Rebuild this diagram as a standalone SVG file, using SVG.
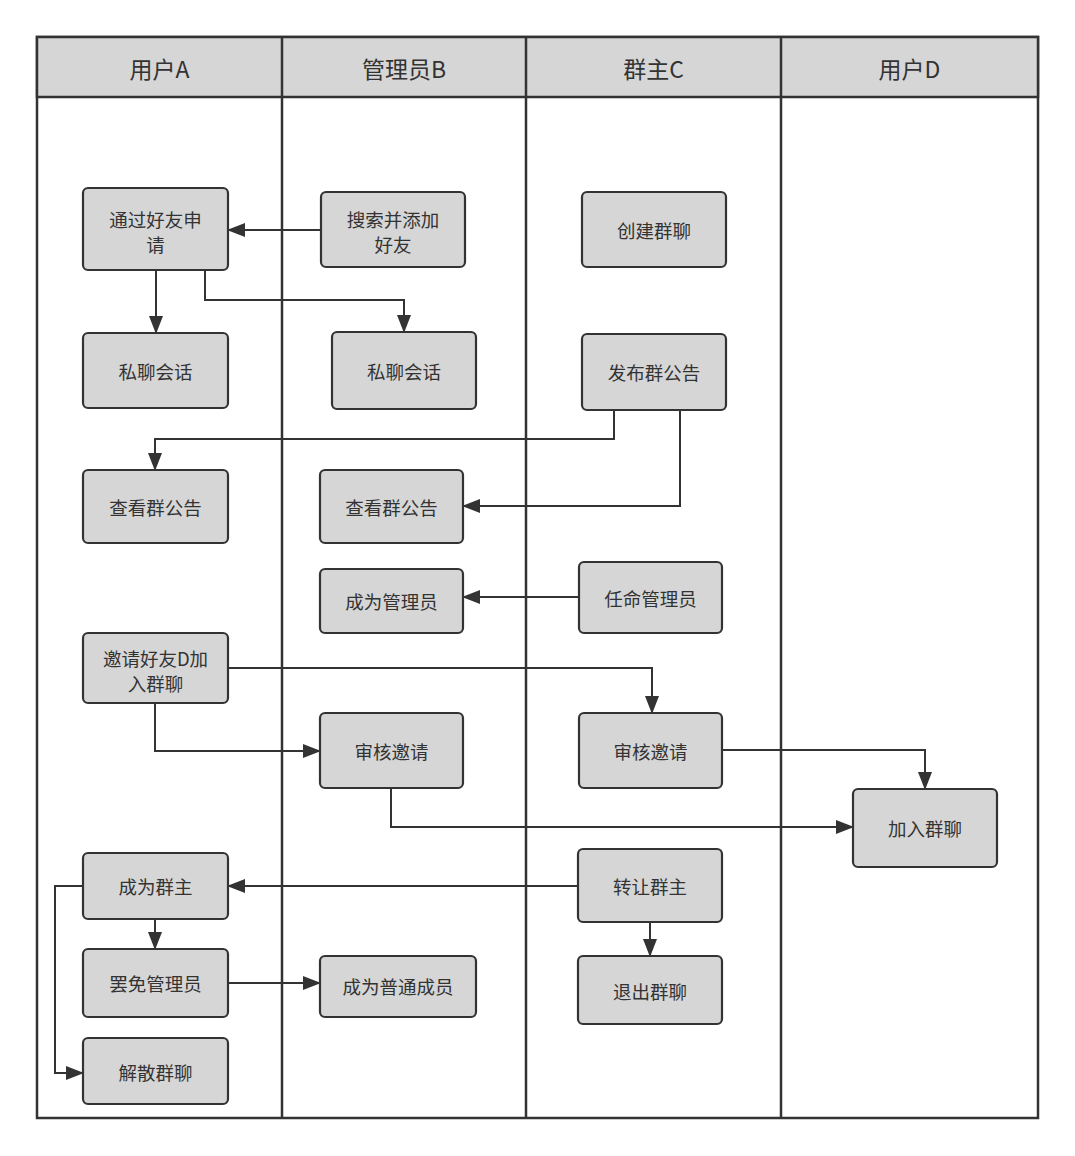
<svg xmlns="http://www.w3.org/2000/svg" width="1075" height="1156" viewBox="0 0 1075 1156">
<defs>
<style>
.lane{fill:#fff;stroke:#333;stroke-width:2.5}
.hdr{fill:#d6d6d6;stroke:#333;stroke-width:2.5}
.ht{font-family:"Noto Sans CJK SC","Noto Sans",sans-serif;font-size:23px;fill:#333;text-anchor:middle;dominant-baseline:central}
.box{fill:#d6d6d6;stroke:#333;stroke-width:2.2}
.t{font-family:"Noto Sans CJK SC","Noto Sans",sans-serif;font-size:18.5px;fill:#333;text-anchor:middle;dominant-baseline:central}
.c{fill:none;stroke:#333;stroke-width:2;marker-end:url(#ah)}
</style>
<marker id="ah" markerUnits="userSpaceOnUse" markerWidth="18" markerHeight="14" refX="17" refY="7" orient="auto">
<path d="M0,0 L18,7 L0,14 z" fill="#333"/>
</marker>
</defs>
<rect width="1075" height="1156" fill="#fff"/>
<g id="lanes">
<rect class="lane" x="37" y="37" width="1001" height="1081"/>
<rect class="hdr" x="37" y="37" width="1001" height="60"/>
<line x1="282" y1="37" x2="282" y2="1118" stroke="#333" stroke-width="2.5"/>
<line x1="526" y1="37" x2="526" y2="1118" stroke="#333" stroke-width="2.5"/>
<line x1="781" y1="37" x2="781" y2="1118" stroke="#333" stroke-width="2.5"/>
<text class="ht" x="159.5" y="68">用户A</text>
<text class="ht" x="404" y="68">管理员B</text>
<text class="ht" x="653.5" y="68">群主C</text>
<text class="ht" x="909.5" y="68">用户D</text>
</g>
<g id="connectors">
<path class="c" d="M321,230 H228"/>
<path class="c" d="M156,270 V333"/>
<path class="c" d="M205,270 V300 H404 V332"/>
<path class="c" d="M614,410 V439 H155 V470"/>
<path class="c" d="M680,410 V506 H463"/>
<path class="c" d="M579,597 H463"/>
<path class="c" d="M228,668 H652 V713"/>
<path class="c" d="M155,703 V751 H320"/>
<path class="c" d="M722,750 H925 V789"/>
<path class="c" d="M391,788 V827 H853"/>
<path class="c" d="M578,886 H228"/>
<path class="c" d="M155,919 V949"/>
<path class="c" d="M83,886 H55 V1073 H83"/>
<path class="c" d="M228,983 H320"/>
<path class="c" d="M650,922 V956"/>
</g>
<g id="n1"><rect class="box" x="83" y="188" width="145" height="82" rx="5"/><text class="t" x="155.5" y="219">通过好友申</text><text class="t" x="155.5" y="244">请</text></g>
<g id="n2"><rect class="box" x="321" y="192" width="144" height="75" rx="5"/><text class="t" x="393" y="219">搜索并添加</text><text class="t" x="393" y="244">好友</text></g>
<g id="n3"><rect class="box" x="582" y="192" width="144" height="75" rx="5"/><text class="t" x="654" y="230">创建群聊</text></g>
<g id="n4"><rect class="box" x="83" y="333" width="145" height="75" rx="5"/><text class="t" x="155.5" y="371">私聊会话</text></g>
<g id="n5"><rect class="box" x="332" y="332" width="144" height="77" rx="5"/><text class="t" x="404" y="371">私聊会话</text></g>
<g id="n6"><rect class="box" x="582" y="334" width="144" height="76" rx="5"/><text class="t" x="654" y="372">发布群公告</text></g>
<g id="n7"><rect class="box" x="83" y="470" width="145" height="73" rx="5"/><text class="t" x="155.5" y="507">查看群公告</text></g>
<g id="n8"><rect class="box" x="320" y="470" width="143" height="73" rx="5"/><text class="t" x="391.5" y="507">查看群公告</text></g>
<g id="n9"><rect class="box" x="320" y="569" width="143" height="64" rx="5"/><text class="t" x="391.5" y="601">成为管理员</text></g>
<g id="n10"><rect class="box" x="579" y="562" width="143" height="71" rx="5"/><text class="t" x="650.5" y="598">任命管理员</text></g>
<g id="n11"><rect class="box" x="83" y="633" width="145" height="70" rx="5"/><text class="t" x="155.5" y="658">邀请好友D加</text><text class="t" x="155.5" y="683">入群聊</text></g>
<g id="n12"><rect class="box" x="320" y="713" width="143" height="75" rx="5"/><text class="t" x="391.5" y="751">审核邀请</text></g>
<g id="n13"><rect class="box" x="579" y="713" width="143" height="75" rx="5"/><text class="t" x="650.5" y="751">审核邀请</text></g>
<g id="n14"><rect class="box" x="853" y="789" width="144" height="78" rx="5"/><text class="t" x="925" y="828">加入群聊</text></g>
<g id="n15"><rect class="box" x="83" y="853" width="145" height="66" rx="5"/><text class="t" x="155.5" y="886">成为群主</text></g>
<g id="n16"><rect class="box" x="578" y="849" width="144" height="73" rx="5"/><text class="t" x="650" y="886">转让群主</text></g>
<g id="n17"><rect class="box" x="83" y="949" width="145" height="68" rx="5"/><text class="t" x="155.5" y="983">罢免管理员</text></g>
<g id="n18"><rect class="box" x="320" y="956" width="156" height="61" rx="5"/><text class="t" x="398" y="986">成为普通成员</text></g>
<g id="n19"><rect class="box" x="578" y="956" width="144" height="68" rx="5"/><text class="t" x="650" y="991">退出群聊</text></g>
<g id="n20"><rect class="box" x="83" y="1038" width="145" height="66" rx="5"/><text class="t" x="155.5" y="1072">解散群聊</text></g>
</svg>
